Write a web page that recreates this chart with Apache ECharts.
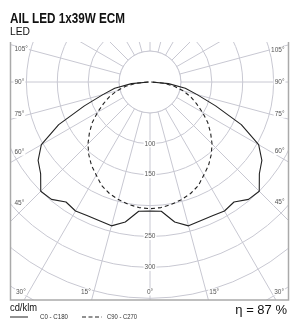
<!DOCTYPE html>
<html><head><meta charset="utf-8">
<script src="https://cdn.jsdelivr.net/npm/echarts@6/dist/echarts.min.js"></script>
<style>html,body{margin:0;padding:0;background:#fff}#c{width:290px;height:324px}</style>
</head><body><div id="c"></div>
<script>
// ---- data ----
const titleText = 'AIL LED 1x39W ECM';
const subtitleText = 'LED';
const unitText = 'cd/klm';
const efficiencyText = 'η = 87 %';
const legendNames = ['C0 - C180', 'C90 - C270'];
const gammaAngles = [0, 5, 10, 15, 20, 25, 30, 35, 40, 45, 50, 55, 60, 65, 70, 75, 80, 85, 90];
const c0c180 = [209, 210, 230, 241, 239, 239, 241, 237, 248, 250, 231, 221, 203, 163, 113, 79, 58, 30, 2];
const c90c270 = [205, 204, 201, 197, 192, 185, 174, 165, 154, 142, 128, 114, 98, 83, 70, 56, 40, 22, 3];
const radialTicks = [100, 150, 250, 300];
const sideAngleTicks = [45, 60, 75, 90, 105];
const bottomAngleTicks = [0, 15, 30];

// ---- layout / style ----
const W = 290, H = 324;
const box = { left: 10.5, top: 42, right: 288.5, bottom: 300 };
const polarCenter = [150, 82];
const rMax = 450;
const pxPerUnit = 0.618;
const gridColor = '#c8c8d2';
const curveColor = '#222';
const labelColor = '#555';
const smallFont = '6.5px "Liberation Sans", Arial, sans-serif';

function buildPath(values) {
  const pts = [];
  for (let i = gammaAngles.length - 1; i >= 0; i--) pts.push([values[i], gammaAngles[i]]);
  for (let i = 1; i < gammaAngles.length; i++) pts.push([values[i], 360 - gammaAngles[i]]);
  return pts;
}

const chart = echarts.init(document.getElementById('c'), null, { renderer: 'canvas', width: W, height: H });
chart.setOption({
  animation: false,
  polar: { center: polarCenter, radius: rMax * pxPerUnit },
  angleAxis: {
    type: 'value', min: 0, max: 360, interval: 15, startAngle: 270, clockwise: true,
    axisLine: { show: false }, axisTick: { show: false }, axisLabel: { show: false },
    splitLine: { show: true, lineStyle: { color: gridColor, width: 1 } }, z: 0
  },
  radiusAxis: {
    type: 'value', min: 0, max: rMax, interval: 50,
    axisLine: { show: false }, axisTick: { show: false }, axisLabel: { show: false },
    splitLine: { show: true, lineStyle: { color: gridColor, width: 1 } }, z: 0
  },
  series: [
    { name: legendNames[0], type: 'line', coordinateSystem: 'polar', data: buildPath(c0c180),
      symbol: 'none', lineStyle: { color: curveColor, width: 1.1 }, z: 5, silent: true },
    { name: legendNames[1], type: 'line', coordinateSystem: 'polar', data: buildPath(c90c270),
      symbol: 'none', lineStyle: { color: curveColor, width: 1.1, type: [4, 3] }, z: 5, silent: true }
  ]
});

function px(r, a) {
  try {
    const p = chart.convertToPixel({ polarIndex: 0 }, [r, a]);
    if (p && isFinite(p[0]) && isFinite(p[1])) return p;
  } catch (e) {}
  const rad = a * Math.PI / 180;
  return [polarCenter[0] - r * pxPerUnit * Math.sin(rad), polarCenter[1] + r * pxPerUnit * Math.cos(rad)];
}

const measureCtx = document.createElement('canvas').getContext('2d');
function fitScale(text, font, target) {
  measureCtx.font = font;
  const w = measureCtx.measureText(text).width;
  return w > 0 ? target / w : 1;
}

const g = [];
const c = px(0, 0);
const p50 = px(50, 0);
const r50 = Math.hypot(p50[0] - c[0], p50[1] - c[1]);
// blank inner circle (spokes start at 50)
g.push({ type: 'circle', shape: { cx: c[0], cy: c[1], r: r50 }, style: { fill: '#fff', stroke: gridColor, lineWidth: 1 }, z: 1, silent: true });
// clip frame (white outside plot box)
g.push({ type: 'rect', shape: { x: 0, y: 0, width: W, height: box.top }, style: { fill: '#fff' }, z: 10, silent: true });
g.push({ type: 'rect', shape: { x: 0, y: 0, width: box.left, height: H }, style: { fill: '#fff' }, z: 10, silent: true });
g.push({ type: 'rect', shape: { x: box.right, y: 0, width: W - box.right, height: H }, style: { fill: '#fff' }, z: 10, silent: true });
g.push({ type: 'rect', shape: { x: 0, y: box.bottom, width: W, height: H - box.bottom }, style: { fill: '#fff' }, z: 10, silent: true });
g.push({ type: 'polyline', shape: { points: [[box.left, box.top], [box.left, box.bottom], [box.right, box.bottom], [box.right, box.top]] },
  style: { stroke: '#aaaaaa', lineWidth: 1.5, fill: null }, z: 11, silent: true });

// radial labels
radialTicks.forEach(v => {
  const p = px(v, 0);
  g.push({ type: 'text', x: p[0], y: p[1], z: 12, silent: true,
    style: { text: String(v), font: smallFont, fill: labelColor, align: 'center', verticalAlign: 'middle', backgroundColor: '#fff', padding: [0, 1] } });
});

// side angle labels
function dirOf(a) {
  const p = px(400, a);
  const d = [p[0] - c[0], p[1] - c[1]];
  const n = Math.hypot(d[0], d[1]);
  return [d[0] / n, d[1] / n];
}
sideAngleTicks.forEach(a => {
  [a, 360 - a].forEach((aa, side) => {
    const d = dirOf(aa);
    const xRef = side === 0 ? box.left + 18 : box.right - 18;
    const t = (xRef - c[0]) / d[0];
    const y = c[1] + t * d[1];
    g.push({ type: 'text', x: side === 0 ? box.left + 3 : box.right - 3, y: y, z: 12, silent: true,
      style: { text: a + '°', font: smallFont, fill: labelColor, align: side === 0 ? 'left' : 'right', verticalAlign: 'middle', backgroundColor: '#fff', padding: [0, 1] } });
  });
});
// bottom angle labels
bottomAngleTicks.forEach(a => {
  const yRef = box.bottom - 8;
  if (a === 0) {
    g.push({ type: 'text', x: c[0], y: yRef, z: 12, silent: true,
      style: { text: a + '°', font: smallFont, fill: labelColor, align: 'center', verticalAlign: 'middle', backgroundColor: '#fff', padding: [0, 1] } });
    return;
  }
  [a, 360 - a].forEach((aa, side) => {
    const d = dirOf(aa);
    const t = (yRef - c[1]) / d[1];
    const x = c[0] + t * d[0];
    g.push({ type: 'text', x: side === 0 ? x - 2 : x + 2, y: yRef, z: 12, silent: true,
      style: { text: a + '°', font: smallFont, fill: labelColor, align: side === 0 ? 'right' : 'left', verticalAlign: 'middle', backgroundColor: '#fff', padding: [0, 1] } });
  });
});

// title & texts
const titleFont = 'bold 15px "Liberation Sans", Arial, sans-serif';
g.push({ type: 'text', x: 10, y: 19, scaleX: fitScale(titleText, titleFont, 115), z: 20, silent: true,
  style: { text: titleText, font: titleFont, fill: '#111', align: 'left', verticalAlign: 'middle' } });
const subFont = '11px "Liberation Sans", Arial, sans-serif';
g.push({ type: 'text', x: 10, y: 31.5, scaleX: fitScale(subtitleText, subFont, 20), z: 20, silent: true,
  style: { text: subtitleText, font: subFont, fill: '#111', align: 'left', verticalAlign: 'middle' } });
const unitFont = '10px "Liberation Sans", Arial, sans-serif';
g.push({ type: 'text', x: 10, y: 308.5, scaleX: fitScale(unitText, unitFont, 27), z: 20, silent: true,
  style: { text: unitText, font: unitFont, fill: '#111', align: 'left', verticalAlign: 'middle' } });
const etaFont = '13px "Liberation Sans", Arial, sans-serif';
g.push({ type: 'text', x: 287, y: 310.5, z: 20, silent: true,
  style: { text: efficiencyText, font: etaFont, fill: '#111', align: 'right', verticalAlign: 'middle' } });
// legend
const legFont = '6.5px "Liberation Sans", Arial, sans-serif';
g.push({ type: 'line', shape: { x1: 10, y1: 317, x2: 28, y2: 317 }, style: { stroke: curveColor, lineWidth: 1 }, z: 20, silent: true });
g.push({ type: 'text', x: 40, y: 317, scaleX: fitScale(legendNames[0], legFont, 28), z: 20, silent: true,
  style: { text: legendNames[0], font: legFont, fill: '#333', align: 'left', verticalAlign: 'middle' } });
g.push({ type: 'line', shape: { x1: 82, y1: 317, x2: 102, y2: 317 }, style: { stroke: curveColor, lineWidth: 1, lineDash: [4, 2.5] }, z: 20, silent: true });
g.push({ type: 'text', x: 107, y: 317, scaleX: fitScale(legendNames[1], legFont, 30), z: 20, silent: true,
  style: { text: legendNames[1], font: legFont, fill: '#333', align: 'left', verticalAlign: 'middle' } });

chart.setOption({ graphic: g });
</script></body></html>
